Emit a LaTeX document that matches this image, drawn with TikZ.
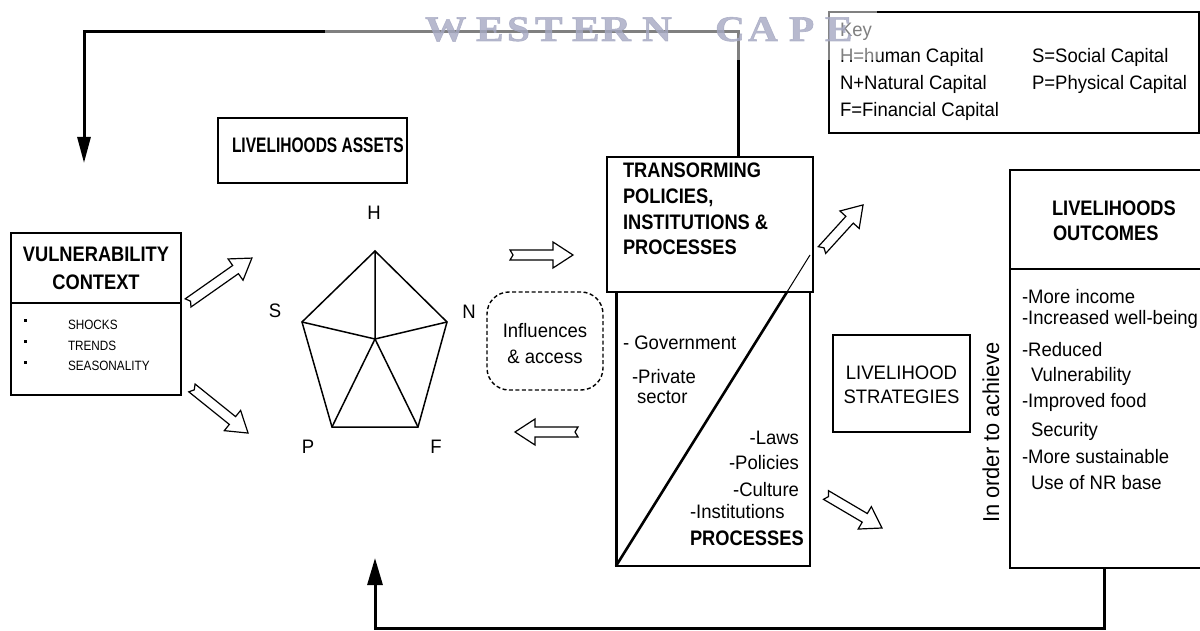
\documentclass[tikz,border=0pt]{standalone}
\usepackage{fontspec}
\setmainfont{Liberation Sans}
\newfontfamily\rfont[FakeStretch=0.95]{Liberation Sans}
\newfontfamily\hfont[FakeStretch=0.87]{Liberation Sans}
\newfontfamily\afont[FakeStretch=0.74]{Liberation Sans}
\newfontfamily\wfont[FakeStretch=1.15, FakeBold=1.5]{Liberation Serif}
\usetikzlibrary{arrows.meta,calc}
\definecolor{wmark}{RGB}{165,168,194}

\tikzset{
  txt/.style={inner sep=0pt, outer sep=0pt, anchor=base west, font=\rfont\fontsize{19.5}{23}\selectfont},
  head/.style={inner sep=0pt, outer sep=0pt, anchor=base west, font=\hfont\bfseries\fontsize{21}{25}\selectfont},
  small/.style={inner sep=0pt, outer sep=0pt, anchor=base west, font=\hfont\fontsize{13.5}{16}\selectfont},
  letter/.style={inner sep=0pt, outer sep=0pt, anchor=center, font=\rfont\fontsize{19.5}{23}\selectfont},
  box/.style={draw, line width=1.5pt, inner sep=0pt, outer sep=0pt, anchor=north west},
  feedback/.style={line width=3pt, line join=miter},
  harrow/.style={draw, line width=1.2pt, line join=miter, fill=white},
  wm/.style={inner sep=0pt, outer sep=0pt, anchor=base west, text=wmark, opacity=0.8,
             font=\wfont\bfseries\fontsize{36}{40}\selectfont}
}

% hollow block arrow: centre x, centre y, angle, length
\newcommand\hollowarrow[4]{%
  \pgfmathsetmacro\harL{#4/2}%
  \pgfmathsetmacro\harB{#4/2-20}%
  \pgfmathsetmacro\harN{-#4/2+3}%
  \draw[harrow, shift={(#1,#2)}, rotate=#3]
    (-\harL,5) -- (\harB,5) -- (\harB,13) -- (\harL,0) -- (\harB,-13)
    -- (\harB,-5) -- (-\harL,-5) -- (\harN,0) -- cycle;}

\begin{document}
\begin{tikzpicture}[x=1pt,y=-1pt]
\useasboundingbox (0,0) rectangle (1200,631);
\clip (0,0) rectangle (1200,631);
\fill[white] (0,0) rectangle (1200,631);

% ---- vulnerability context
\node[box, minimum width=170pt, minimum height=162pt] (vuln) at (11,233) {};
\draw[line width=1.5pt] ([yshift=-70pt]vuln.north west) -- ([yshift=-70pt]vuln.north east);
\node[head, anchor=base] (vulnT1) at (96,261.5) {VULNERABILITY};
\node[head, anchor=base] (vulnT2) at (96,289.5) {CONTEXT};
\fill (23.5,318.5) rectangle (26.5,321.5);
\fill (23.5,339.5) rectangle (26.5,342.5);
\fill (23.5,360.5) rectangle (26.5,363.5);
\node[small] (shocks) at (68,329) {SHOCKS};
\node[small] (trends) at (68,350) {TRENDS};
\node[small] (season) at (68,370) {SEASONALITY};

% ---- livelihood assets
\node[box, minimum width=189pt, minimum height=65pt] (assets) at (218,118) {};
\node[head, font=\afont\bfseries\fontsize{21}{25}\selectfont] (assetsT) at (232,152.5) {LIVELIHOODS ASSETS};

% asset pentagon
\coordinate (pH) at (375,251);
\coordinate (pS) at (302,322);
\coordinate (pN) at (447,322);
\coordinate (pP) at (332,427);
\coordinate (pF) at (418,427);
\coordinate (pC) at (375,339);
\draw[line width=1.5pt, line join=miter] (pH) -- (pN) -- (pF) -- (pP) -- (pS) -- cycle;
\draw[line width=1.5pt] (pC) -- (pH) (pC) -- (pS) (pC) -- (pN) (pC) -- (pP) (pC) -- (pF);
\node[letter] (lH) at (374,213) {H};
\node[letter] (lS) at (275,311) {S};
\node[letter] (lN) at (469,312) {N};
\node[letter] (lP) at (308,447) {P};
\node[letter] (lF) at (436,447) {F};

% influences & access
\node[box, draw, dash pattern=on 4pt off 2.5pt, line width=1.4pt, rounded corners=22pt,
      minimum width=116pt, minimum height=98pt] (infl) at (487,292) {};
\node[txt, anchor=base] (inflT1) at (545,337) {Influences};
\node[txt, anchor=base] (inflT2) at (545,363) {\& access};

% ---- transforming structures and processes
\node[box, minimum width=194pt, minimum height=274pt] (tproc) at (616,292) {};
\draw[line width=3pt] (tproc.north west) -- (tproc.south west);
\draw[line width=2pt] (tproc.south west) -- (tproc.south east);
\node[box, fill=white, minimum width=206pt, minimum height=135pt] (tpip) at (607,157) {};
\coordinate (dgMid) at (787,292);
\coordinate (dgTop) at (810,255);
\draw[line width=2.6pt] (tproc.south west) -- (dgMid);
\draw[line width=1pt] (dgMid) -- (dgTop);

\node[head] (tpT1) at (623,177.5) {TRANSORMING};
\node[head] (tpT2) at (623,203.5) {POLICIES,};
\node[head] (tpT3) at (623,229.5) {INSTITUTIONS \&};
\node[head] (tpT4) at (623,255) {PROCESSES};

\node[txt] (gov) at (623,349) {- Government};
\node[txt] (priv) at (632,383) {-Private};
\node[txt] (sect) at (637,403) {sector};
\node[txt, anchor=base east] (laws) at (799,444) {-Laws};
\node[txt, anchor=base east] (pol) at (799,469) {-Policies};
\node[txt, anchor=base east] (cult) at (799,496) {-Culture};
\node[txt] (inst) at (690,518) {-Institutions};
\node[head] (procT) at (690,545.5) {PROCESSES};

% ---- livelihood strategies
\node[box, minimum width=137pt, minimum height=97pt] (strat) at (833,335) {};
\node[txt, anchor=base] (stratT1) at (901.5,379) {LIVELIHOOD};
\node[txt, anchor=base] (stratT2) at (901.5,403) {STRATEGIES};
\node[txt, anchor=base, rotate=90, font=\rfont\fontsize{23}{26}\selectfont] (achieve) at (999,432.5) {In order to achieve};

% ---- livelihood outcomes
\node[box, minimum width=215pt, minimum height=398pt] (outc) at (1010,170) {};
\draw[line width=1.5pt] ([yshift=-99pt]outc.north west) -- ([yshift=-99pt]outc.north east);
\node[head] (outT1) at (1052,215.5) {LIVELIHOODS};
\node[head] (outT2) at (1053,240.5) {OUTCOMES};
\node[txt] (o1) at (1022,303) {-More income};
\node[txt] (o2) at (1022,324) {-Increased well-being};
\node[txt] (o3) at (1022,356) {-Reduced};
\node[txt] (o4) at (1031,381) {Vulnerability};
\node[txt] (o5) at (1022,407) {-Improved food};
\node[txt] (o6) at (1031,436) {Security};
\node[txt] (o7) at (1022,463) {-More sustainable};
\node[txt] (o8) at (1031,489) {Use of NR base};

% ---- key
\node[box, line width=2.5pt, minimum width=370pt, minimum height=121pt] (key) at (829,12) {};
\node[txt] (k0) at (840,37) {Key};
\node[txt] (k1) at (840,63) {H=human Capital};
\node[txt] (k2) at (840,90) {N+Natural Capital};
\node[txt] (k3) at (840,117) {F=Financial Capital};
\node[txt] (k4) at (1032,63) {S=Social Capital};
\node[txt] (k5) at (1032,90) {P=Physical Capital};

% ---- hollow flow arrows
\hollowarrow{220}{280.5}{35.1}{78}
\hollowarrow{220}{410.5}{-38.8}{72}
\hollowarrow{541.5}{255}{0}{63}
\hollowarrow{546.5}{432}{180}{63}
\hollowarrow{842.5}{227.5}{47.7}{61}
\hollowarrow{854}{511.5}{-30.5}{65}

% ---- feedback loops
\coordinate (fbA) at (738,32);
\coordinate (fbB) at (84,32);
\coordinate (topTip) at (84,163);
\draw[feedback, -{Triangle[length=26pt,width=13pt]}]
  ([xshift=131pt]tpip.north west) -- (fbA) -- (fbB) -- (topTip);
\coordinate (botTip) at (375,558);
\draw[feedback, -{Triangle[length=27pt,width=15pt]}]
  ([xshift=94pt]outc.south west) -- ++(0,60) -| (botTip);

% ---- watermark band
\fill[white, opacity=0.5] (325,0) rectangle (877,60);
\foreach \ch/\xx [count=\i] in {W/425,E/476,S/507,T/535,E/572,R/601,N/642,C/715,A/748,P/789,E/825}
  {\node[wm] (wm\i) at (\xx,41) {\ch};}
\end{tikzpicture}
\end{document}
